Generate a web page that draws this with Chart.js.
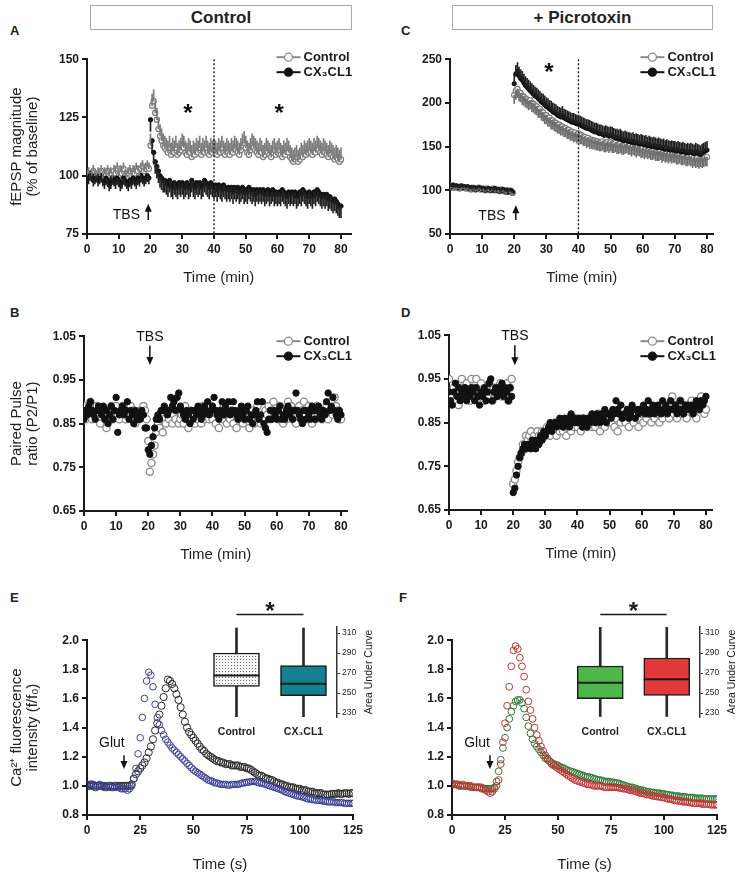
<!DOCTYPE html>
<html>
<head>
<meta charset="utf-8">
<script src="https://cdn.jsdelivr.net/npm/chart.js@4.4.1/dist/chart.umd.min.js"></script>
<style>
  body { margin: 0; background: #fff; }
  #page { position: relative; width: 741px; height: 880px; overflow: hidden; background: #fff;
          font-family: "Liberation Sans", Arial, sans-serif; color: #222; }
  canvas { position: absolute; }
  .hdr { position: absolute; top: 5px; height: 25px; box-sizing: border-box; border: 1px solid #aaa;
         text-align: center; font-weight: bold; font-size: 17px; line-height: 23px; }
  .lbl { position: absolute; font-weight: bold; font-size: 13px; line-height: 14px; }
</style>
</head>
<body>
<div id="page">
  <div class="hdr" style="left:90px;width:262px">Control</div>
  <div class="hdr" style="left:452px;width:261px">+ Picrotoxin</div>
  <div class="lbl" style="left:10px;top:24px">A</div>
  <div class="lbl" style="left:401px;top:24px">C</div>
  <div class="lbl" style="left:10px;top:306px">B</div>
  <div class="lbl" style="left:401px;top:306px">D</div>
  <div class="lbl" style="left:10px;top:591px">E</div>
  <div class="lbl" style="left:399px;top:591px">F</div>
  <canvas id="cA"></canvas>
  <canvas id="cC"></canvas>
  <canvas id="cB"></canvas>
  <canvas id="cD"></canvas>
  <canvas id="cE"></canvas>
  <canvas id="cF"></canvas>
  <canvas id="cE2"></canvas>
  <canvas id="cF2"></canvas>
</div>
<script>
// time grids: every 0.5 min (A-D), every 1 s (E, F)
const tMin = Array.from({length: 161}, (_, i) => i / 2);
const tSec = Array.from({length: 126}, (_, i) => i);

const xTicksMin = [0, 10, 20, 30, 40, 50, 60, 70, 80];
const xTicksSec = [0, 25, 50, 75, 100, 125];
const yTicksA = [75, 100, 125, 150];
const yTicksC = [50, 100, 150, 200, 250];
const yTicksPPR = [0.65, 0.75, 0.85, 0.95, 1.05];
const yTicksCa = [0.8, 1.0, 1.2, 1.4, 1.6, 1.8, 2.0];
const yTicksAUC = [230, 240, 250, 260, 270, 280, 290, 300, 310];

// A - fEPSP, control slices
const ctrlA = [
  100, 101, 99, 100, 102, 100, 99, 101, 100, 102,
  99, 101, 100, 102, 100, 101, 99, 102, 101, 103,
  100, 102, 101, 103, 100, 99, 101, 102, 100, 102,
  101, 103, 102, 100, 103, 104, 102, 103, 104, 103,
  113, 130, 132, 127, 124, 120, 117, 115, 113, 112,
  111, 110, 112, 109, 111, 110, 112, 109, 110, 111,
  113, 112, 110, 109, 111, 110, 108, 110, 109, 111,
  110, 112, 109, 111, 110, 112, 110, 109, 111, 110,
  111, 110, 109, 111, 110, 112, 110, 109, 111, 110,
  109, 111, 110, 112, 111, 110, 109, 111, 113, 114,
  112, 110, 109, 111, 113, 112, 111, 110, 109, 111,
  110, 108, 109, 111, 110, 109, 108, 110, 111, 109,
  110, 111, 109, 108, 110, 109, 111, 110, 108, 107,
  106, 107, 108, 106, 107, 109, 108, 110, 109, 110,
  111, 110, 109, 111, 110, 112, 111, 110, 109, 111,
  110, 109, 108, 110, 109, 108, 107, 108, 107, 106,
  107];
const cxA = [
  100, 99, 101, 100, 98, 99, 100, 98, 99, 100,
  98, 97, 99, 98, 96, 97, 99, 98, 97, 99,
  98, 96, 97, 99, 98, 97, 96, 98, 97, 99,
  98, 97, 99, 98, 100, 99, 98, 99, 100, 99,
  124, 115, 110, 106, 104, 102, 100, 99, 98, 98,
  97, 96, 98, 96, 95, 97, 96, 95, 97, 96,
  97, 95, 96, 97, 95, 96, 98, 96, 95, 97,
  96, 97, 95, 96, 98, 97, 96, 95, 97, 96,
  95, 96, 94, 96, 95, 94, 96, 95, 94, 95,
  94, 95, 93, 95, 94, 95, 93, 94, 95, 93,
  94, 93, 95, 94, 93, 94, 92, 94, 93, 94,
  93, 94, 92, 93, 94, 92, 93, 94, 92, 93,
  92, 93, 92, 94, 93, 92, 91, 93, 92, 93,
  92, 93, 91, 92, 93, 92, 94, 93, 92, 91,
  93, 92, 91, 93, 92, 94, 93, 92, 91, 92,
  91, 92, 90, 91, 90, 89, 90, 89, 88, 87,
  87];
// SEM before / after TBS
const semCtrlA = [2.5, 5];
const semCxA = [2.5, 5];

// C - fEPSP, picrotoxin
const ctrlC = [
  104, 105, 103, 104, 103, 104, 102, 103, 104, 103,
  102, 103, 102, 101, 103, 102, 101, 102, 103, 101,
  102, 101, 100, 102, 101, 100, 101, 102, 100, 101,
  100, 99, 101, 100, 99, 98, 100, 99, 98, 97,
  209, 214, 216, 212, 211, 208, 207, 205, 204, 202,
  203, 200, 199, 197, 196, 193, 193, 190, 189, 186,
  186, 183, 183, 180, 180, 178, 177, 175, 175, 173,
  173, 171, 171, 169, 169, 167, 167, 165, 166, 164,
  165, 163, 163, 161, 161, 159, 160, 158, 158, 157,
  157, 156, 156, 155, 155, 156, 154, 154, 155, 153,
  155, 153, 153, 154, 152, 152, 153, 151, 151, 152,
  153, 151, 151, 149, 151, 150, 148, 150, 149, 147,
  148, 146, 148, 146, 147, 145, 145, 146, 144, 144,
  144, 145, 142, 144, 142, 143, 141, 143, 141, 142,
  142, 140, 140, 141, 139, 139, 140, 138, 138, 139,
  138, 136, 138, 136, 137, 135, 137, 136, 137, 138,
  138];
const cxC = [
  105, 104, 106, 104, 105, 103, 104, 105, 103, 104,
  103, 104, 102, 103, 102, 103, 101, 102, 103, 102,
  101, 102, 100, 101, 102, 100, 101, 100, 102, 100,
  101, 99, 100, 101, 99, 100, 98, 99, 100, 98,
  222, 233, 236, 231, 228, 226, 223, 220, 218, 216,
  214, 212, 210, 208, 207, 205, 203, 201, 200, 198,
  196, 195, 193, 192, 190, 189, 188, 186, 185, 184,
  186, 183, 182, 181, 180, 179, 178, 178, 177, 176,
  176, 175, 174, 173, 172, 171, 171, 170, 169, 168,
  167, 167, 166, 165, 165, 164, 163, 164, 163, 162,
  163, 162, 161, 160, 160, 159, 160, 158, 157, 158,
  157, 156, 156, 155, 156, 154, 155, 154, 153, 154,
  153, 152, 153, 151, 152, 151, 150, 151, 150, 149,
  150, 149, 148, 149, 147, 148, 147, 146, 147, 146,
  146, 145, 146, 145, 144, 145, 144, 143, 144, 143,
  144, 143, 142, 144, 143, 142, 141, 143, 144, 145,
  146];
const semCtrlC = [2, 10];
const semCxC = [2, 10];

// B - paired pulse ratio, control slices
const ctrlB = [
  .89, .86, .88, .87, .90, .86, .88, .87, .89, .86,
  .85, .88, .87, .86, .84, .88, .87, .89, .86, .88,
  .89, .87, .86, .88, .89, .87, .86, .88, .87, .89,
  .86, .88, .85, .87, .86, .88, .87, .89, .88, .86,
  .81, .74, .76, .78, .80, .83, .85, .84, .86, .83,
  .86, .85, .87, .86, .88, .85, .87, .86, .88, .85,
  .86, .87, .85, .89, .86, .84, .88, .86, .87, .85,
  .88, .86, .87, .85, .89, .86, .87, .88, .86, .89,
  .86, .88, .85, .87, .84, .88, .86, .89, .87, .85,
  .87, .86, .88, .85, .87, .84, .86, .88, .87, .85,
  .86, .88, .87, .84, .86, .88, .85, .87, .89, .86,
  .85, .87, .86, .88, .87, .89, .86, .88, .90, .87,
  .88, .86, .89, .87, .85, .88, .86, .90, .87, .89,
  .86, .88, .85, .87, .89, .86, .88, .90, .87, .86,
  .89, .87, .85, .88, .86, .89, .87, .88, .86, .88,
  .87, .89, .86, .88, .90, .87, .91, .89, .88, .86,
  .86];
const cxB = [
  .86, .88, .87, .89, .90, .88, .87, .86, .88, .89,
  .88, .87, .89, .86, .88, .85, .87, .89, .86, .88,
  .91, .83, .87, .88, .89, .87, .88, .90, .86, .88,
  .87, .85, .88, .86, .87, .86, .88, .87, .84, .84,
  .79, .78, .80, .82, .84, .86, .87, .86, .88, .88,
  .89, .88, .87, .88, .91, .89, .90, .88, .91, .92,
  .89, .88, .87, .86, .88, .87, .85, .88, .86, .88,
  .87, .89, .88, .86, .87, .89, .88, .90, .87, .88,
  .89, .91, .88, .87, .86, .88, .90, .87, .89, .88,
  .90, .87, .88, .90, .88, .87, .86, .88, .89, .87,
  .86, .88, .89, .86, .87, .85, .87, .88, .90, .86,
  .87, .90, .85, .84, .83, .86, .88, .86, .88, .87,
  .86, .88, .89, .86, .87, .86, .88, .89, .87, .88,
  .86, .88, .92, .88, .87, .86, .85, .88, .86, .88,
  .87, .86, .89, .88, .86, .88, .89, .87, .86, .88,
  .87, .90, .92, .88, .89, .91, .88, .87, .86, .88,
  .87];

// D - paired pulse ratio, picrotoxin
const ctrlD = [
  .95, .92, .91, .93, .90, .92, .89, .93, .95, .92,
  .91, .94, .92, .90, .95, .93, .92, .95, .91, .93,
  .94, .92, .90, .93, .91, .94, .92, .90, .93, .91,
  .93, .92, .94, .91, .93, .92, .94, .90, .93, .95,
  .71, .72, .74, .76, .77, .78, .80, .79, .82, .81,
  .82, .83, .81, .82, .80, .83, .82, .81, .83, .82,
  .82, .84, .83, .82, .84, .83, .85, .82, .84, .83,
  .85, .83, .84, .82, .85, .84, .83, .85, .84, .86,
  .84, .85, .83, .86, .84, .85, .84, .86, .85, .84,
  .86, .84, .85, .87, .83, .86, .85, .84, .86, .85,
  .86, .85, .87, .84, .86, .83, .87, .85, .86, .88,
  .85, .87, .84, .86, .88, .85, .87, .86, .84, .86,
  .87, .85, .88, .86, .87, .89, .85, .87, .86, .88,
  .87, .85, .88, .86, .89, .87, .88, .86, .88, .91,
  .87, .89, .86, .88, .90, .87, .89, .88, .86, .89,
  .88, .90, .87, .89, .86, .90, .88, .91, .89, .87,
  .88];
const cxD = [
  .92, .90, .89, .92, .94, .91, .93, .90, .92, .91,
  .93, .90, .92, .91, .93, .92, .90, .93, .91, .89,
  .92, .91, .93, .90, .92, .94, .95, .90, .92, .93,
  .91, .93, .92, .94, .91, .93, .92, .90, .93, .91,
  .69, .70, .73, .75, .77, .78, .79, .80, .79, .80,
  .80, .79, .81, .80, .79, .81, .80, .82, .81, .83,
  .82, .83, .84, .85, .83, .84, .85, .84, .85, .86,
  .85, .84, .86, .85, .86, .84, .87, .85, .86, .85,
  .85, .86, .85, .84, .86, .85, .84, .86, .85, .87,
  .86, .85, .87, .86, .85, .87, .86, .88, .85, .87,
  .87, .86, .88, .87, .90, .88, .87, .89, .86, .87,
  .87, .88, .86, .87, .89, .88, .86, .88, .87, .88,
  .88, .89, .87, .88, .90, .87, .88, .89, .87, .88,
  .89, .88, .87, .90, .88, .89, .87, .88, .90, .88,
  .88, .89, .87, .88, .90, .88, .87, .89, .88, .89,
  .88, .89, .87, .88, .90, .89, .88, .90, .89, .90,
  .91];

// E - Ca2+ fluorescence (blue and black traces)
const blueE = [
  1.01, 1.01, 1.00, 1.01, 1.00, 1.00, 1.01, 1.00, 0.99, 1.00,
  1.00, 0.99, 1.00, 0.99, 0.99, 0.99, 0.98, 0.98, 0.98, 0.97,
  0.98, 1.00, 1.05, 1.12, 1.22, 1.33, 1.47, 1.60, 1.72, 1.78,
  1.76, 1.68, 1.56, 1.47, 1.42, 1.38, 1.35, 1.32, 1.30, 1.28,
  1.26, 1.245, 1.23, 1.215, 1.20, 1.185, 1.17, 1.155, 1.14, 1.125,
  1.11, 1.10, 1.09, 1.08, 1.07, 1.06, 1.05, 1.04, 1.035, 1.03,
  1.02, 1.02, 1.015, 1.01, 1.01, 1.01, 1.005, 1.005, 1.01, 1.01,
  1.01, 1.01, 1.015, 1.02, 1.02, 1.025, 1.025, 1.03, 1.03, 1.03,
  1.025, 1.02, 1.02, 1.015, 1.01, 1.005, 1.00, 0.995, 0.99, 0.985,
  0.98, 0.975, 0.97, 0.96, 0.955, 0.95, 0.945, 0.94, 0.935, 0.93,
  0.93, 0.925, 0.92, 0.915, 0.91, 0.91, 0.905, 0.905, 0.90, 0.90,
  0.90, 0.895, 0.895, 0.89, 0.89, 0.89, 0.89, 0.885, 0.885, 0.885,
  0.885, 0.88, 0.88, 0.88, 0.88, 0.88];
const blackE = [
  1.00, 1.00, 1.01, 1.00, 0.99, 1.00, 1.00, 1.00, 1.00, 0.99,
  1.00, 1.00, 0.99, 1.00, 1.00, 1.00, 1.00, 1.00, 1.00, 1.00,
  1.00, 1.01, 1.05, 1.08, 1.10, 1.12, 1.14, 1.16, 1.19, 1.23,
  1.27, 1.32, 1.38, 1.43, 1.49, 1.55, 1.61, 1.67, 1.73, 1.72,
  1.70, 1.67, 1.63, 1.59, 1.54, 1.49, 1.44, 1.40, 1.37, 1.35,
  1.33, 1.31, 1.29, 1.27, 1.25, 1.24, 1.22, 1.21, 1.20, 1.19,
  1.18, 1.17, 1.17, 1.16, 1.16, 1.15, 1.15, 1.15, 1.14, 1.14,
  1.14, 1.14, 1.13, 1.13, 1.13, 1.12, 1.12, 1.11, 1.10, 1.09,
  1.08, 1.07, 1.07, 1.06, 1.05, 1.05, 1.04, 1.04, 1.03, 1.02,
  1.02, 1.01, 1.01, 1.00, 1.00, 0.99, 0.99, 0.99, 0.98, 0.98,
  0.98, 0.97, 0.97, 0.97, 0.96, 0.96, 0.96, 0.95, 0.95, 0.95,
  0.95, 0.94, 0.94, 0.94, 0.94, 0.945, 0.945, 0.945, 0.95, 0.945,
  0.945, 0.95, 0.95, 0.945, 0.95, 0.95];

// F - Ca2+ fluorescence (red and green traces)
const redF = [
  1.02, 1.01, 1.01, 1.01, 1.00, 1.01, 1.00, 1.00, 1.00, 1.00,
  0.99, 0.99, 0.99, 0.99, 0.98, 0.98, 0.97, 0.96, 0.95, 0.96,
  0.98, 1.00, 1.04, 1.15, 1.30, 1.43, 1.55, 1.68, 1.82, 1.93,
  1.96, 1.94, 1.88, 1.82, 1.75, 1.66, 1.58, 1.52, 1.46, 1.40,
  1.35, 1.31, 1.27, 1.24, 1.21, 1.19, 1.17, 1.15, 1.14, 1.13,
  1.12, 1.11, 1.10, 1.09, 1.08, 1.07, 1.06, 1.05, 1.04, 1.035,
  1.03, 1.025, 1.02, 1.015, 1.01, 1.01, 1.005, 1.00, 1.00, 1.00,
  1.00, 0.995, 0.99, 0.99, 0.99, 0.99, 0.99, 0.99, 0.99, 0.985,
  0.985, 0.98, 0.98, 0.975, 0.97, 0.97, 0.965, 0.96, 0.955, 0.95,
  0.95, 0.945, 0.94, 0.94, 0.935, 0.93, 0.93, 0.925, 0.925, 0.92,
  0.92, 0.915, 0.91, 0.91, 0.905, 0.90, 0.90, 0.895, 0.895, 0.89,
  0.89, 0.89, 0.885, 0.885, 0.88, 0.88, 0.88, 0.88, 0.875, 0.875,
  0.875, 0.875, 0.87, 0.87, 0.87, 0.87];
const greenF = [
  1.01, 1.01, 1.01, 1.00, 1.00, 1.00, 1.00, 1.00, 1.00, 0.99,
  0.99, 0.99, 0.99, 0.99, 0.99, 0.98, 0.98, 0.98, 0.98, 0.98,
  0.99, 1.03, 1.10, 1.18, 1.26, 1.33, 1.40, 1.46, 1.51, 1.55,
  1.58, 1.59, 1.59, 1.57, 1.53, 1.47, 1.41, 1.36, 1.32, 1.29,
  1.27, 1.25, 1.23, 1.21, 1.19, 1.18, 1.17, 1.16, 1.15, 1.145,
  1.14, 1.13, 1.125, 1.12, 1.11, 1.105, 1.10, 1.095, 1.09, 1.085,
  1.08, 1.075, 1.07, 1.065, 1.06, 1.06, 1.055, 1.05, 1.045, 1.04,
  1.04, 1.035, 1.03, 1.03, 1.03, 1.025, 1.025, 1.02, 1.02, 1.015,
  1.01, 1.005, 1.00, 0.995, 0.99, 0.99, 0.985, 0.98, 0.975, 0.97,
  0.97, 0.965, 0.96, 0.96, 0.955, 0.955, 0.95, 0.95, 0.95, 0.945,
  0.945, 0.94, 0.94, 0.935, 0.935, 0.93, 0.93, 0.93, 0.925, 0.925,
  0.925, 0.92, 0.92, 0.92, 0.92, 0.915, 0.915, 0.915, 0.915, 0.91,
  0.91, 0.91, 0.91, 0.91, 0.91, 0.91];

// box plot insets (area under curve)
const boxLabels = ['Control', 'CX\u2083CL1'];
const boxE_q1 = [256.6, 247.3];
const boxE_q3 = [290, 277.3];
const boxE_med = [267.6, 259.3];
const boxE_lo = [226, 226];
const boxE_hi = [315, 315];
const boxF_q1 = [244.3, 247.7];
const boxF_q3 = [277, 285];
const boxF_med = [260.3, 263.7];
const boxF_lo = [226.5, 226.5];
const boxF_hi = [316, 316];

Chart.defaults.font.family = '"Liberation Sans", Arial, sans-serif';
Chart.defaults.color = '#1a1a1a';

function place(id, left, top, w, h) {
    const c = document.getElementById(id);
    c.width = w; c.height = h;
    c.style.left = left + 'px'; c.style.top = top + 'px';
    c.style.width = w + 'px'; c.style.height = h + 'px';
    return c;
}

function pts(t, v) {
    return v.map((y, i) => ({x: t[i], y: y}));
}
// error bars as floating bars, sem[0] before TBS (index < 40), sem[1] after
function errs(t, v, sem, dir) {
    return v.map((y, i) => {
        const e = sem[i < 40 ? 0 : 1];
        return {x: t[i], y: dir > 0 ? [y, y + e] : [y - e, y]};
    });
}

function errSet(data, color) {
    return {type: 'bar', data: data, backgroundColor: color, borderWidth: 0, barThickness: 1, grouped: false};
}
function dotSet(data, fill, stroke, r, bw) {
    return {type: 'scatter', data: data, showLine: false, pointRadius: r, pointBackgroundColor: fill,
        pointBorderColor: stroke, pointBorderWidth: bw};
}

const annotPlugin = {
    id: 'annot',
    afterDatasetsDraw(chart, args, o) {
        const {ctx, chartArea, scales: {x, y}} = chart;
        ctx.save();
        if (o.vline != null) {
            const px = x.getPixelForValue(o.vline);
            ctx.setLineDash([2, 2]);
            ctx.lineWidth = 1.3;
            ctx.strokeStyle = '#111';
            ctx.beginPath();
            ctx.moveTo(px, chartArea.top);
            ctx.lineTo(px, chartArea.bottom);
            ctx.stroke();
            ctx.setLineDash([]);
        }
        (o.arrows || []).forEach(a => {
            const px = x.getPixelForValue(a.x);
            const p1 = y.getPixelForValue(a.from), p2 = y.getPixelForValue(a.to);
            const d = Math.sign(p2 - p1);
            ctx.strokeStyle = '#111';
            ctx.fillStyle = '#111';
            ctx.lineWidth = 1.5;
            ctx.beginPath();
            ctx.moveTo(px, p1);
            ctx.lineTo(px, p2 - d * 6);
            ctx.stroke();
            ctx.beginPath();
            ctx.moveTo(px, p2);
            ctx.lineTo(px - 3.5, p2 - d * 8);
            ctx.lineTo(px + 3.5, p2 - d * 8);
            ctx.closePath();
            ctx.fill();
        });
        (o.texts || []).forEach(t => {
            ctx.font = t.font;
            ctx.fillStyle = '#111';
            ctx.textAlign = t.align || 'center';
            ctx.textBaseline = 'middle';
            ctx.fillText(t.text, x.getPixelForValue(t.x), y.getPixelForValue(t.y) + (t.dy || 0));
        });
        if (o.legend) {
            const tx = chartArea.right + o.legend.dx;
            o.legend.items.forEach((it, i) => {
                const ty = chartArea.top + o.legend.dy + i * 15;
                ctx.strokeStyle = it.stroke;
                ctx.lineWidth = 2;
                ctx.beginPath();
                ctx.moveTo(tx - 27, ty);
                ctx.lineTo(tx - 3, ty);
                ctx.stroke();
                ctx.beginPath();
                ctx.arc(tx - 15, ty, 4, 0, Math.PI * 2);
                ctx.fillStyle = it.fill;
                ctx.fill();
                ctx.lineWidth = 1.3;
                ctx.stroke();
                ctx.font = 'bold 13px "Liberation Sans", Arial, sans-serif';
                ctx.fillStyle = '#1a1a1a';
                ctx.textAlign = 'left';
                ctx.textBaseline = 'middle';
                ctx.fillText(it.text, tx, ty);
            });
        }
        ctx.restore();
    }
};

function axis(min, max, tickVals, fmt, title, fit, isX) {
    return {
        type: 'linear', min: min, max: max, offset: false, beginAtZero: false,
        afterBuildTicks: s => { s.ticks = tickVals.map(v => ({value: v})); },
        afterFit: s => { if (isX) s.height = fit; else s.width = fit; },
        ticks: {font: {size: 12, weight: 'bold'}, color: '#1a1a1a', padding: 3, maxRotation: 0,
            autoSkip: false, callback: fmt},
        grid: {drawOnChartArea: false, drawTicks: true, tickLength: 5, color: '#1a1a1a', lineWidth: 2, offset: false},
        border: {display: true, color: '#1a1a1a', width: 2},
        title: title ? {display: true, text: title, font: {size: 15, lineHeight: 1.07}, color: '#222',
            padding: isX ? {top: 0, bottom: 0} : {top: 9, bottom: 0}} : {display: false}
    };
}

function lineChart(id, g, datasets, yAxis, xAxis, annot) {
    const left = g.x0 - g.yW, top = g.yT - 10;
    const width = Math.ceil(g.xR - left + 14), height = g.yB - top + g.xH;
    const c = place(id, left, top, width, height);
    return new Chart(c, {
        type: 'scatter',
        data: {datasets: datasets},
        options: {
            responsive: false, animation: false, devicePixelRatio: 1, events: [],
            layout: {padding: {top: 10, right: width - (g.xR - left), left: 0, bottom: 0}},
            plugins: {legend: {display: false}, tooltip: {enabled: false}, annot: annot},
            scales: {x: xAxis, y: yAxis}
        },
        plugins: [annotPlugin]
    });
}

const f0 = v => v;
const f1 = v => v.toFixed(1);
const f2 = v => v.toFixed(2);
const legendGray = [
    {text: 'Control', fill: '#fff', stroke: '#8a8a8a'},
    {text: 'CX\u2083CL1', fill: '#111', stroke: '#111'}
];
const txtFont = '14px "Liberation Sans", Arial, sans-serif';
const starFont = 'bold 24px "Liberation Sans", Arial, sans-serif';

// A
lineChart('cA', {x0: 87, xR: 350.5, yT: 59, yB: 234, yW: 87, xH: 52}, [
    errSet(errs(tMin, cxA, semCxA, -1), '#222'),
    errSet(errs(tMin, ctrlA, semCtrlA, 1), '#7d7d7d'),
    dotSet(pts(tMin, cxA), '#111', '#111', 2.2, 1),
    dotSet(pts(tMin, ctrlA), '#fff', '#7d7d7d', 2.6, 1.2)
], axis(75, 150, yTicksA, f0, ['fEPSP magnitude', '(% of baseline)'], 87, false),
   axis(0, 83, xTicksMin, f0, 'Time (min)', 52, true), {
    vline: 40,
    arrows: [{x: 19.3, from: 81, to: 88}],
    texts: [
        {text: 'TBS', x: 16.7, y: 83, font: txtFont, align: 'right'},
        {text: '*', x: 31.8, y: 129, font: starFont, dy: 6},
        {text: '*', x: 60.5, y: 129, font: starFont, dy: 6}
    ],
    legend: {dx: -47, dy: -2, items: legendGray}
});

// C
lineChart('cC', {x0: 450, xR: 713.4, yT: 59, yB: 234, yW: 40, xH: 52}, [
    errSet(errs(tMin, cxC, semCxC, 1), '#222'),
    errSet(errs(tMin, ctrlC, semCtrlC, -1), '#6f6f6f'),
    dotSet(pts(tMin, cxC), '#111', '#111', 2.2, 1),
    dotSet(pts(tMin, ctrlC), '#fff', '#7d7d7d', 2.6, 1.2)
], axis(50, 250, yTicksC, f0, null, 40, false),
   axis(0, 82, xTicksMin, f0, 'Time (min)', 52, true), {
    vline: 40,
    arrows: [{x: 20.5, from: 66, to: 83}],
    texts: [
        {text: 'TBS', x: 17.3, y: 70.6, font: txtFont, align: 'right'},
        {text: '*', x: 30.8, y: 241, font: starFont, dy: 6}
    ],
    legend: {dx: -46, dy: -2, items: legendGray}
});

// B
lineChart('cB', {x0: 84, xR: 347.4, yT: 336, yB: 511, yW: 84, xH: 52}, [
    dotSet(pts(tMin, cxB), '#111', '#111', 3.2, 1),
    dotSet(pts(tMin, ctrlB), '#fff', '#8a8a8a', 3.6, 1.3)
], axis(0.65, 1.05, yTicksPPR, f2, ['Paired Pulse', 'ratio (P2/P1)'], 84, false),
   axis(0, 82, xTicksMin, f0, 'Time (min)', 52, true), {
    arrows: [{x: 20.5, from: 1.029, to: 0.984}],
    texts: [{text: 'TBS', x: 20.5, y: 1.048, font: txtFont}],
    legend: {dx: -44, dy: 5, items: legendGray}
});

// D
lineChart('cD', {x0: 449, xR: 712.4, yT: 335, yB: 510, yW: 40, xH: 52}, [
    dotSet(pts(tMin, cxD), '#111', '#111', 3.2, 1),
    dotSet(pts(tMin, ctrlD), '#fff', '#8a8a8a', 3.6, 1.3)
], axis(0.65, 1.05, yTicksPPR, f2, null, 40, false),
   axis(0, 82, xTicksMin, f0, 'Time (min)', 52, true), {
    arrows: [{x: 20.5, from: 1.027, to: 0.981}],
    texts: [{text: 'TBS', x: 20.5, y: 1.047, font: txtFont}],
    legend: {dx: -45, dy: 6, items: legendGray}
});

// E
lineChart('cE', {x0: 87, xR: 353, yT: 640, yB: 815, yW: 87, xH: 58}, [
    dotSet(pts(tSec, blueE), 'rgba(255,255,255,0)', '#3c3f98', 3.3, 1),
    dotSet(pts(tSec, blackE), 'rgba(255,255,255,0)', '#2a2a2a', 3.6, 1)
], axis(0.8, 2.0, yTicksCa, f1, ['Ca\u00b2\u207a fluorescence', 'intensity (f/f\u2080)'], 87, false),
   axis(0, 125, xTicksSec, f0, 'Time (s)', 58, true), {
    arrows: [{x: 17.4, from: 1.211, to: 1.115}],
    texts: [{text: 'Glut', x: 11.7, y: 1.294, font: txtFont}]
});

// F
lineChart('cF', {x0: 452, xR: 717, yT: 640, yB: 815, yW: 40, xH: 58}, [
    dotSet(pts(tSec, redF), 'rgba(255,255,255,0)', '#c23434', 3.4, 1),
    dotSet(pts(tSec, greenF), 'rgba(255,255,255,0)', '#2f7a37', 3.4, 1)
], axis(0.8, 2.0, yTicksCa, f1, null, 40, false),
   axis(0, 125, xTicksSec, f0, 'Time (s)', 58, true), {
    arrows: [{x: 17.9, from: 1.211, to: 1.115}],
    texts: [{text: 'Glut', x: 11.8, y: 1.294, font: txtFont}]
});

// box plot insets
const boxPlugin = {
    id: 'boxAnnot',
    afterDatasetsDraw(chart, args, o) {
        const {ctx, chartArea, scales: {y}} = chart;
        const boxes = chart.getDatasetMeta(1).data;
        ctx.save();
        ctx.strokeStyle = '#1a1a1a';
        ctx.lineWidth = 2;
        boxes.forEach((b, i) => {
            const py = y.getPixelForValue(o.med[i]);
            ctx.beginPath();
            ctx.moveTo(b.x - b.width / 2, py);
            ctx.lineTo(b.x + b.width / 2, py);
            ctx.stroke();
        });
        const sy = y.getPixelForValue(o.sigBar);
        ctx.lineWidth = 1.5;
        ctx.beginPath();
        ctx.moveTo(boxes[0].x, sy);
        ctx.lineTo(boxes[1].x, sy);
        ctx.stroke();
        ctx.fillStyle = '#1a1a1a';
        ctx.font = 'bold 24px "Liberation Sans", Arial, sans-serif';
        ctx.textAlign = 'center';
        ctx.textBaseline = 'middle';
        ctx.fillText('*', (boxes[0].x + boxes[1].x) / 2, y.getPixelForValue(o.sigStar) + 6);
        ctx.translate(chart.width - 7.5, (chartArea.top + chartArea.bottom) / 2);
        ctx.rotate(-Math.PI / 2);
        ctx.font = '10.5px "Liberation Sans", Arial, sans-serif';
        ctx.fillText('Area Under Curve', 0, 0);
        ctx.restore();
    }
};

function boxChart(id, left, cw, q1, q3, med, lo, hi, fills) {
    const c = place(id, left, 595, cw + 40, 146);
    return new Chart(c, {
        type: 'bar',
        data: {
            labels: boxLabels,
            datasets: [
                {data: boxLabels.map((_, i) => [lo[i], hi[i]]), backgroundColor: '#2a2a2a',
                    barThickness: 2, grouped: false, order: 2},
                {data: boxLabels.map((_, i) => [q1[i], q3[i]]), backgroundColor: fills, borderColor: '#1a1a1a',
                    borderWidth: 1.5, borderSkipped: false, barThickness: 46, grouped: false, order: 1}
            ]
        },
        options: {
            responsive: false, animation: false, devicePixelRatio: 1, events: [],
            layout: {padding: {top: 32, left: 0, right: 0, bottom: 0}},
            plugins: {legend: {display: false}, tooltip: {enabled: false},
                boxAnnot: {med: med, sigBar: 328.5, sigStar: 337}},
            scales: {
                x: {type: 'category', offset: true, grid: {display: false, drawTicks: false}, border: {display: false},
                    ticks: {font: {size: 10.5, weight: 'bold'}, color: '#222', padding: 9},
                    afterFit: s => { s.height = 24; }},
                y: {type: 'linear', position: 'right', min: 226, max: 316,
                    afterBuildTicks: s => { s.ticks = yTicksAUC.map(v => ({value: v})); },
                    ticks: {font: {size: 8.5}, color: '#222', padding: 2,
                        callback: v => (v - 230) % 20 === 0 ? v : ''},
                    grid: {drawOnChartArea: false, tickLength: 3, color: '#333', lineWidth: 1},
                    border: {display: true, color: '#333', width: 1.5},
                    afterFit: s => { s.width = 40; }}
            }
        },
        plugins: [boxPlugin]
    });
}

// stippled fill for the control box in E
const pc = document.createElement('canvas');
pc.width = 3; pc.height = 3;
const pctx = pc.getContext('2d');
pctx.fillStyle = '#f5f5f5';
pctx.fillRect(0, 0, 3, 3);
pctx.fillStyle = '#6a6a6a';
pctx.fillRect(1, 1, 1, 1);
const dots = pctx.createPattern(pc, 'repeat');

boxChart('cE2', 203, 134, boxE_q1, boxE_q3, boxE_med, boxE_lo, boxE_hi, [dots, '#15808f']);
boxChart('cF2', 567, 133, boxF_q1, boxF_q3, boxF_med, boxF_lo, boxF_hi, ['#4db749', '#e1393a']);
</script>
</body>
</html>
